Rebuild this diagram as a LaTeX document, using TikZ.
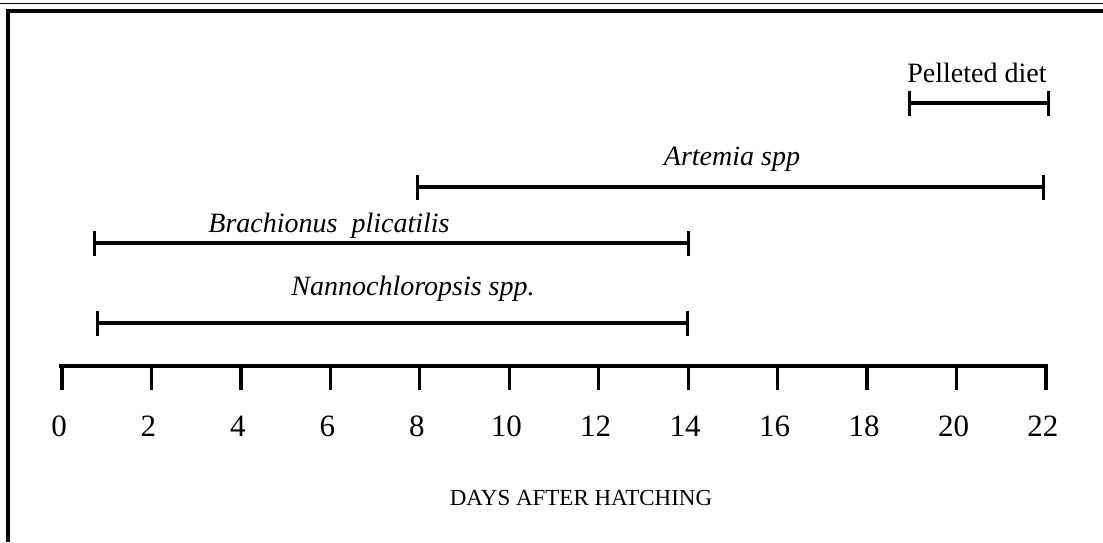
\documentclass[tikz,border=0pt]{standalone}
\usepackage{fontspec}
\setmainfont{Liberation Serif}
\usetikzlibrary{arrows.meta}
\begin{document}
\begin{tikzpicture}[x=1pt,y=-1pt,
  bar/.style={line width=3.2pt, {Bar[width=25pt,line width=3.2pt]}-{Bar[width=25pt,line width=3.2pt]}},
  lab/.style={anchor=base, inner sep=0pt, font=\fontsize{28}{30}\selectfont},
  ilab/.style={anchor=base, inner sep=0pt, font=\fontsize{28}{30}\selectfont\itshape},
  num/.style={anchor=base, inner sep=0pt, font=\fontsize{31}{33}\selectfont},
  axlab/.style={anchor=base, inner sep=0pt, font=\fontsize{23}{25}\selectfont},
  tickline/.style={line width=3.2pt},
  frame/.style={line width=3.6pt},
  thinframe/.style={line width=1.8pt}
  ]
\useasboundingbox (0,0) rectangle (1103,542);
% frame
\coordinate (f0) at (0,3.5); \coordinate (f1) at (1103,3.5);
\draw[thinframe] (f0) -- (f1);
\coordinate (g0) at (1103,11); \coordinate (g1) at (8,11); \coordinate (g2) at (8,542);
\draw[frame] (g0) -- (g1) -- (g2);
% Pelleted diet
\coordinate (p1) at (908,103); \coordinate (p2) at (1050,103);
\draw[bar] (p1) -- (p2);
\node[lab] (pl) at (977,82) {Pelleted diet};
% Artemia
\coordinate (a1) at (416,187); \coordinate (a2) at (1045,187);
\draw[bar] (a1) -- (a2);
\node[ilab] (al) at (732,165) {Artemia spp};
% Brachionus
\coordinate (r1) at (93,243); \coordinate (r2) at (690,243);
\draw[bar] (r1) -- (r2);
\node[ilab] (rl) at (329,232) {Brachionus\hspace{0.5em}plicatilis};
% Nannochloropsis
\coordinate (n1) at (96,323); \coordinate (n2) at (689,323);
\draw[bar] (n1) -- (n2);
\node[ilab] (nl) at (413,295) {Nannochloropsis spp.};
% axis
\coordinate (ax0) at (59,366); \coordinate (ax1) at (1047.5,366);
\draw[tickline] (ax0) -- (ax1);
\foreach \i in {0,...,11}{
  \pgfmathsetmacro\xx{62+89.45*\i}
  \coordinate (t\i) at (\xx,366);
  \coordinate (b\i) at (\xx,390);
  \draw[tickline] (t\i) -- (b\i);
  \node[num] (lab\i) at (\xx-3,436) {\the\numexpr 2*\i\relax};
}
\node[axlab] (days) at (581,505) {DAYS AFTER HATCHING};
\end{tikzpicture}
\end{document}
